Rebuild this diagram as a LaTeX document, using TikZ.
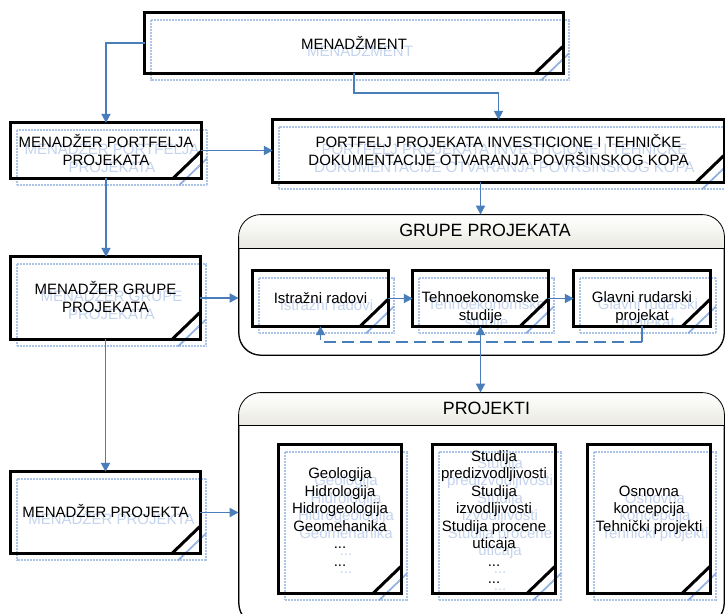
\documentclass[tikz,border=0pt]{standalone}
\usepackage{fontspec}
\setmainfont{Liberation Sans}
\usetikzlibrary{arrows.meta}
\definecolor{conncol}{RGB}{74,126,187}
\definecolor{ghostcol}{RGB}{172,196,232}
\definecolor{ghosttxt}{RGB}{196,212,238}
\definecolor{ghostdiag}{RGB}{130,165,220}
\definecolor{hdrcol}{RGB}{234,234,226}
\newcommand\bodyfont{\fontsize{15}{17.5}\selectfont}
\newcommand\titlefont{\fontsize{17.8}{20.5}\selectfont}
\tikzset{
 boxfill/.style={fill=white, draw=none, inner sep=0pt, rectangle},
 boxline/.style={draw=black, line width=3pt, line join=miter},
 ghostline/.style={draw=ghostcol, line width=2pt, dash pattern=on 0.9pt off 0.6pt},
 ghostcorner/.style={draw=ghostdiag, line width=1.8pt, dash pattern=on 1pt off 0.5pt},
 maintext/.style={font=\bodyfont, align=center, inner sep=0pt, text=black,
   execute at begin node=\strut, execute at end node=\strut},
 ghosttext/.style={maintext, text=ghosttxt},
 titletext/.style={font=\titlefont, inner sep=0pt, text=black,
   execute at begin node=\strut, execute at end node=\strut},
 contbox/.style={draw=black, line width=0.8pt, fill=white, rounded corners=22pt, inner sep=0pt, rectangle},
 contline/.style={draw=black, line width=0.8pt},
 conn/.style={draw=conncol, line width=1.8pt, -{Triangle[length=9pt,width=9pt]}},
 conntwo/.style={draw=conncol, line width=1.8pt, {Triangle[length=9pt,width=9pt]}-{Triangle[length=9pt,width=9pt]}},
 connplain/.style={draw=conncol, line width=1.8pt},
 conndash/.style={draw=conncol, line width=1.8pt, dash pattern=on 12pt off 6pt, -{Triangle[length=9pt,width=9pt]}},
}
% #1 name, #2 x1, #3 y1, #4 x2, #5 y2, #6 text centre y, #7 text
\newcommand\docbox[7]{%
 \pgfmathsetmacro\dbw{#4-#2}\pgfmathsetmacro\dbh{#5-#3}%
 \pgfmathsetmacro\dbx{(#2+#4)/2}\pgfmathsetmacro\dby{(#3+#5)/2}%
 \node[boxfill, minimum width=\dbw pt, minimum height=\dbh pt] (#1) at (\dbx,\dby) {};
 \draw[ghostline] ([shift={(6pt,-7pt)}]#1.north west) rectangle ([shift={(6pt,-7pt)}]#1.south east);
 \draw[ghostcorner] ([shift={(-22pt,-7pt)}]#1.south east) -- ([shift={(6pt,20pt)}]#1.south east);
 \node[ghosttext] (#1-g) at (\dbx+6,#6+7) {#7};
 \draw[boxline] (#1.north west) rectangle (#1.south east);
 \draw[boxline] ([xshift=-28pt]#1.south east) -- ([yshift=27pt]#1.south east);
 \node[maintext] (#1-t) at (\dbx,#6) {#7};
}
% #1 name, #2 x1, #3 y1, #4 x2, #5 y2, #6 header line y
\newcommand\contbox[6]{%
 \pgfmathsetmacro\cbw{#4-#2}\pgfmathsetmacro\cbh{#5-#3}%
 \pgfmathsetmacro\cbx{(#2+#4)/2}\pgfmathsetmacro\cby{(#3+#5)/2}%
 \node[contbox, minimum width=\cbw pt, minimum height=\cbh pt] (#1) at (\cbx,\cby) {};
 \coordinate (#1-hl) at (\cbx,#6);
 \begin{scope}
  \clip[rounded corners=22pt] (#1.north west) rectangle (#1.south east);
  \shade[top color=white, bottom color=hdrcol] (#1.north west) rectangle (#1.east |- #1-hl);
 \end{scope}
 \draw[contline] (#1.west |- #1-hl) -- (#1.east |- #1-hl);
 \draw[contline, rounded corners=22pt] (#1.north west) rectangle (#1.south east);
}
\begin{document}
\begin{tikzpicture}[x=1pt,y=-1pt]
\useasboundingbox (0,0) rectangle (725,613);
\clip (0,0) rectangle (725,613);
\fill[white] (0,0) rectangle (725,613);

% containers
\contbox{grupe}{239}{215}{724}{355}{248}
\node[titletext] (grupe-title) at (485,231.9) {GRUPE PROJEKATA};
\contbox{projekti}{239}{393}{724}{625}{425}
\node[titletext] (projekti-title) at (486.5,409.9) {PROJEKTI};

% boxes
\docbox{mgmt}{145}{13}{563}{73}{45.5}{MENADŽMENT}
\docbox{mp}{11}{123}{201}{178}{152.6}{MENADŽER PORTFELJA\\PROJEKATA}
\docbox{pp}{273}{120}{724}{182}{152.6}{PORTFELJ PROJEKATA INVESTICIONE I TEHNIČKE\\DOKUMENTACIJE OTVARANJA POVRŠINSKOG KOPA}
\docbox{mg}{11}{257}{200}{339}{299.8}{MENADŽER GRUPE\\PROJEKATA}
\docbox{mproj}{11}{472}{200}{553}{513.8}{MENADŽER PROJEKTA}
\docbox{istr}{253}{271}{388}{326}{299.8}{Istražni radovi}
\docbox{tehno}{413}{271}{548}{326}{308.5}{Tehnoekonomske\\studije}
\docbox{glavni}{574}{271}{710}{326}{308.5}{Glavni rudarski\\projekat}
\docbox{pa}{279}{445}{401}{593}{519.6}{Geologija\\Hidrologija\\Hidrogeologija\\Geomehanika\\...\\...}
\docbox{pb}{433}{445}{555}{593}{519.5}{Studija\\predizvodljivosti\\Studija\\izvodljivosti\\Studija procene\\uticaja\\...\\...}
\docbox{pc}{588}{445}{710}{593}{511.3}{Osnovna\\koncepcija\\Tehnički projekti}

% connectors
\draw[conn] (mgmt.west) -| (mp.north);
\draw[conn] (mgmt.south) -- ++(0,20) -| (pp.north);
\draw[conn] (mp.east) -- (mp.east -| pp.west);
\draw[conn] (mp.south) -- (mp.south |- mg.north);
\draw[conn] (pp.south -| tehno.north) -- (grupe.north -| tehno.north);
\draw[conn] (mg.east) -- (mg.east -| grupe.west);
\draw[conn] (mg.south) -- (mg.south |- mproj.north);
\draw[conn] (mproj.east) -- (mproj.east -| projekti.west);
\draw[conn] (istr.east |- tehno.west) -- (tehno.west);
\draw[conn] (tehno.east) -- (tehno.east -| glavni.west);
\draw[conntwo] (tehno.south) -- (tehno.south |- projekti.north);
\draw[connplain] (glavni.south) -- ++(0,16) coordinate (dc);
\draw[conndash] (dc) -| (istr.south);
\end{tikzpicture}
\end{document}
